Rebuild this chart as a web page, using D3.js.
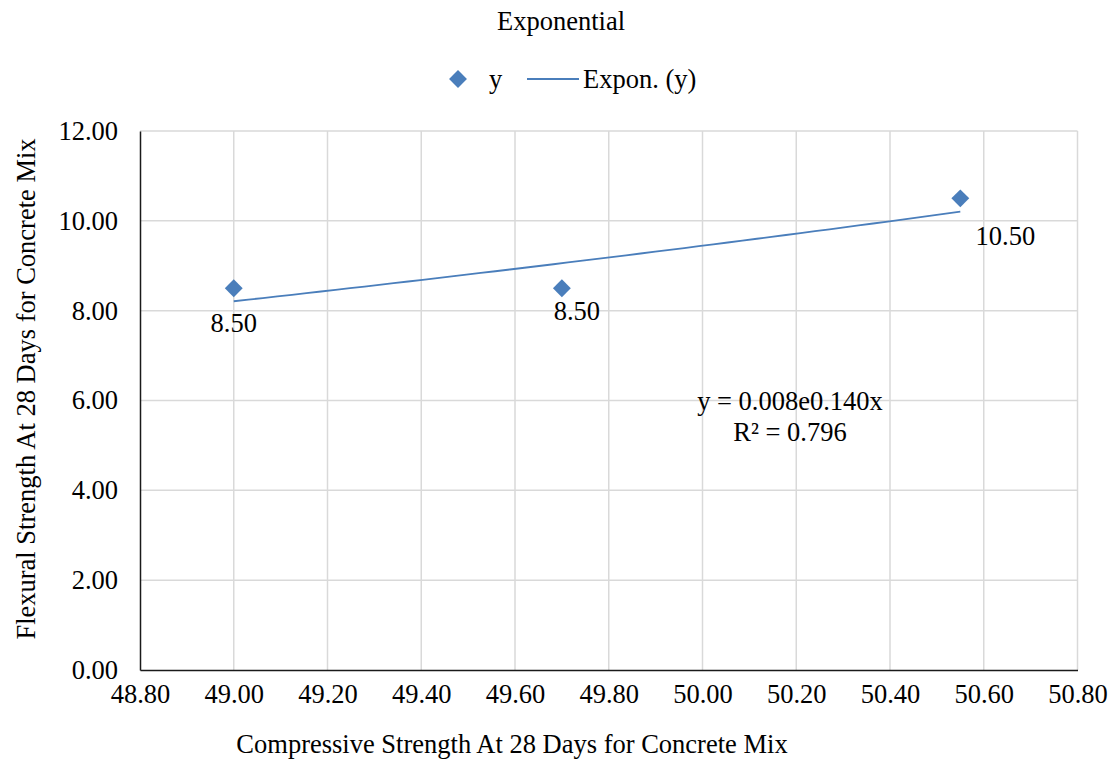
<!DOCTYPE html>
<html>
<head>
<meta charset="utf-8">
<script src="https://cdn.jsdelivr.net/npm/d3@7"></script>
<style>
  html, body { margin: 0; padding: 0; background: #fff; }
  svg text { font-family: 'Liberation Serif', Tinos, 'Times New Roman', Times, 'DejaVu Serif', serif !important; fill: #000; }
</style>
</head>
<body>
<svg id="chart" width="1113" height="760"></svg>
<script>
// ---- data ----
const xValues = [49.00, 49.70, 50.55];
const yValues = [8.50, 8.50, 10.50];
const dataLabels = ["8.50", "8.50", "10.50"];
const xTicks = [48.8, 49.0, 49.2, 49.4, 49.6, 49.8, 50.0, 50.2, 50.4, 50.6, 50.8];
const yTicks = [0, 2, 4, 6, 8, 10, 12];
const chartTitle = "Exponential";
const xTitle = "Compressive Strength At 28 Days for Concrete Mix";
const yTitle = "Flexural Strength At 28 Days for Concrete Mix";
const seriesName = "y";
const trendName = "Expon. (y)";
const equationText = "y = 0.008e0.140x";
const r2Text = "R² = 0.796";

// ---- layout / style ----
const m = { left: 140, right: 1077.5, top: 131, bottom: 670 };
const blue = "#4A7EBB";
const fontSize = 26.5;
const labelOffsets = [[0, 44], [15, 32], [45, 47]];

const svg = d3.select("#chart");
const x = d3.scaleLinear().domain([48.8, 50.8]).range([m.left, m.right]);
const y = d3.scaleLinear().domain([0, 12]).range([m.bottom, m.top]);

// gridlines
const grid = svg.append("g");
grid.selectAll(".vg").data(xTicks.slice(1)).enter().append("line")
  .attr("x1", d => x(d)).attr("x2", d => x(d))
  .attr("y1", m.top).attr("y2", m.bottom)
  .attr("stroke", "#d9d9d9").attr("stroke-width", 1.5);
grid.selectAll(".hg").data(yTicks.slice(1)).enter().append("line")
  .attr("x1", m.left).attr("x2", m.right)
  .attr("y1", d => y(d)).attr("y2", d => y(d))
  .attr("stroke", "#d9d9d9").attr("stroke-width", 1.5);

// axes
const xAxis = d3.axisBottom(x).tickValues(xTicks).tickFormat(d3.format(".2f")).tickSize(0).tickPadding(14);
const yAxis = d3.axisLeft(y).tickValues(yTicks).tickFormat(d3.format(".2f")).tickSize(0).tickPadding(22);
const gx = svg.append("g").attr("transform", `translate(0,${m.bottom})`).call(xAxis);
const gy = svg.append("g").attr("transform", `translate(${m.left},0)`).call(yAxis);
[gx, gy].forEach(g => {
  g.attr("font-family", null).attr("font-size", null);
  g.select(".domain").attr("stroke", "#1a1a1a").attr("stroke-width", 1.5);
  g.selectAll("text").style("font-size", fontSize + "px");
});
gx.selectAll("text").attr("dy", "0.71em");

// trendline: exponential fit from data (least squares on ln y)
const lnY = yValues.map(Math.log);
const mx = d3.mean(xValues), my = d3.mean(lnY);
const sxx = d3.sum(xValues, v => (v - mx) * (v - mx));
const sxy = d3.sum(xValues.map((v, i) => (v - mx) * (lnY[i] - my)));
const b = sxy / sxx;
const a = Math.exp(my - b * mx);
const x0 = d3.min(xValues), x1 = d3.max(xValues);
const trendPts = d3.range(0, 51).map(i => {
  const xv = x0 + (x1 - x0) * i / 50;
  return [xv, a * Math.exp(b * xv)];
});
svg.append("path")
  .datum(trendPts)
  .attr("fill", "none")
  .attr("stroke", blue)
  .attr("stroke-width", 1.8)
  .attr("d", d3.line().x(d => x(d[0])).y(d => y(d[1])));

// markers
const diamond = d3.symbol().type(d3.symbolSquare).size(160);
svg.selectAll(".pt").data(xValues).enter().append("path")
  .attr("d", diamond)
  .attr("transform", (d, i) => `translate(${x(d)},${y(yValues[i])}) rotate(45)`)
  .attr("fill", blue);

// data labels
svg.selectAll(".dl").data(xValues).enter().append("text")
  .attr("x", (d, i) => x(d) + labelOffsets[i][0])
  .attr("y", (d, i) => y(yValues[i]) + labelOffsets[i][1])
  .attr("text-anchor", "middle")
  .style("font-size", fontSize + "px")
  .text((d, i) => dataLabels[i]);

// equation
svg.append("text").attr("x", 790).attr("y", 410).attr("text-anchor", "middle")
  .style("font-size", fontSize + "px").text(equationText);
svg.append("text").attr("x", 790).attr("y", 441).attr("text-anchor", "middle")
  .style("font-size", fontSize + "px").text(r2Text);

// title
svg.append("text").attr("x", 561).attr("y", 30).attr("text-anchor", "middle")
  .style("font-size", fontSize + "px").text(chartTitle);

// legend
const lg = svg.append("g");
lg.append("path").attr("d", diamond).attr("transform", "translate(458,79) rotate(45)").attr("fill", blue);
lg.append("text").attr("x", 489).attr("y", 88).style("font-size", fontSize + "px").text(seriesName);
lg.append("line").attr("x1", 527).attr("x2", 579).attr("y1", 79).attr("y2", 79)
  .attr("stroke", blue).attr("stroke-width", 1.8);
lg.append("text").attr("x", 583).attr("y", 88).style("font-size", fontSize + "px").text(trendName);

// axis titles
svg.append("text").attr("x", 512).attr("y", 753).attr("text-anchor", "middle")
  .style("font-size", fontSize + "px").text(xTitle);
svg.append("text").attr("transform", "translate(35,389) rotate(-90)").attr("text-anchor", "middle")
  .style("font-size", fontSize + "px").text(yTitle);
</script>
</body>
</html>
